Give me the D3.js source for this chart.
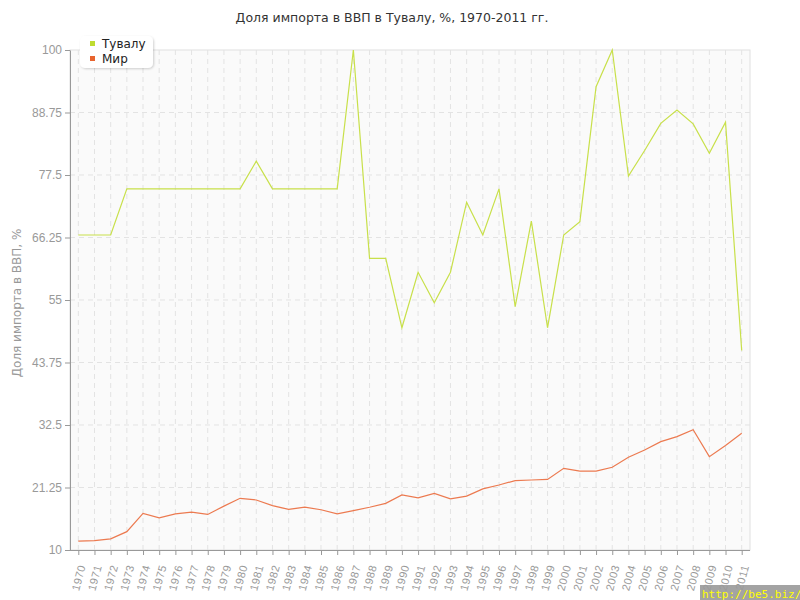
<!DOCTYPE html>
<html lang="ru">
<head>
<meta charset="utf-8">
<style>
    body { margin: 0; background: #fff; }
    svg { display: block; font-family: "DejaVu Sans", sans-serif; }
    .grid line { stroke: #e3e3e3; stroke-dasharray: 5,4; }
    .axis text { fill: #999; font-size: 11px; }
    .axis path, .axis line { stroke: #999; }
</style>
</head>
<body>
<svg id="chart" width="800" height="600"></svg>
<script src="https://cdn.jsdelivr.net/npm/d3@7"></script>
<script>
    var years = d3.range(1970, 2012);
    var tuvalu = [66.7, 66.7, 66.7, 75, 75, 75, 75, 75, 75, 75, 75, 80, 75, 75, 75, 75, 75, 100,
        62.5, 62.5, 50, 60, 54.5, 60, 72.6, 66.7, 75, 53.8, 69.2, 50, 66.7, 69.1, 93.4, 100,
        77.3, 81.9, 86.8, 89.2, 86.7, 81.4, 87, 45.9];
    var world = [11.6, 11.7, 12, 13.3, 16.6, 15.8, 16.5, 16.8, 16.4, 17.9, 19.3, 19, 18, 17.3,
        17.7, 17.25, 16.5, 17.1, 17.7, 18.4, 19.9, 19.4, 20.2, 19.2, 19.7, 21, 21.7, 22.5,
        22.6, 22.7, 24.7, 24.2, 24.2, 24.9, 26.7, 28, 29.5, 30.4, 31.65, 26.8, 28.8, 31];
    var yTicks = [10, 21.25, 32.5, 43.75, 55, 66.25, 77.5, 88.75, 100];
    var seriesNames = ["Тувалу", "Мир"];
    var seriesColors = ["#bfdc30", "#e8642e"];
    var lineColors = ["#c8e04a", "#ec7a50"];

    var svg = d3.select("#chart");
    var pl = 70, pr = 750, pt = 50, pb = 550;

    var x = d3.scalePoint().domain(years).range([78.3, 741.7]);
    var y = d3.scaleLinear().domain([10, 100]).range([pb, pt]);

    // plot background
    svg.append("rect")
        .attr("x", pl).attr("y", pt)
        .attr("width", pr - pl).attr("height", pb - pt)
        .attr("fill", "#fafafa")
        .attr("stroke", "#e0e0e0");

    // grid
    var grid = svg.append("g").attr("class", "grid");
    grid.selectAll(".v").data(years).enter().append("line")
        .attr("x1", function (d) { return x(d); }).attr("x2", function (d) { return x(d); })
        .attr("y1", pt).attr("y2", pb);
    grid.selectAll(".h").data(yTicks.slice(1, -1)).enter().append("line")
        .attr("x1", pl).attr("x2", pr)
        .attr("y1", function (d) { return y(d); }).attr("y2", function (d) { return y(d); });

    // axes
    svg.append("g").attr("class", "axis")
        .attr("transform", "translate(" + pl + ",0)")
        .call(d3.axisLeft(y).tickValues(yTicks).tickSize(5).tickSizeOuter(0).tickPadding(3)
            .tickFormat(function (d) { return String(d); }))
        .selectAll("text").style("font-size", "12px");

    var xAxis = svg.append("g").attr("class", "axis")
        .attr("transform", "translate(0," + pb + ")")
        .call(d3.axisBottom(x).tickSize(5).tickSizeOuter(0));
    xAxis.select(".domain").attr("d", "M" + pl + ",0.5H" + pr);
    xAxis.selectAll("text")
        .attr("text-anchor", "end")
        .attr("x", 0).attr("y", 0).attr("dx", 0).attr("dy", 0)
        .attr("transform", "translate(7,16) rotate(-75)")
        .style("letter-spacing", "0.5px");

    // y axis title
    svg.append("text")
        .attr("transform", "translate(21,303) rotate(-90)")
        .attr("text-anchor", "middle")
        .attr("fill", "#999")
        .style("font-size", "12px")
        .text("Доля импорта в ВВП, %");

    // title
    svg.append("text")
        .attr("x", 392).attr("y", 22)
        .attr("text-anchor", "middle")
        .attr("fill", "#333")
        .style("font-size", "12.5px")
        .text("Доля импорта в ВВП в Тувалу, %, 1970-2011 гг.");

    // lines
    var line = d3.line()
        .x(function (d, i) { return x(years[i]); })
        .y(function (d) { return y(d); });
    [tuvalu, world].forEach(function (s, i) {
        svg.append("path")
            .datum(s)
            .attr("fill", "none")
            .attr("stroke", lineColors[i])
            .attr("stroke-width", 1.2)
            .attr("d", line);
    });

    // legend
    var defs = svg.append("defs");
    var f = defs.append("filter").attr("id", "sh").attr("x", "-20%").attr("y", "-20%")
        .attr("width", "140%").attr("height", "160%");
    f.append("feDropShadow").attr("dx", 1).attr("dy", 1).attr("stdDeviation", 1.2)
        .attr("flood-color", "#000").attr("flood-opacity", 0.18);
    var lg = svg.append("g").attr("transform", "translate(80,36)");
    lg.append("rect")
        .attr("width", 73).attr("height", 32).attr("rx", 5)
        .attr("fill", "#fff").attr("filter", "url(#sh)");
    var items = lg.selectAll(".it").data(seriesNames).enter().append("g")
        .attr("transform", function (d, i) { return "translate(10," + (4 + i * 15) + ")"; });
    items.append("rect").attr("width", 5).attr("height", 5).attr("y", 1)
        .attr("fill", function (d, i) { return seriesColors[i]; });
    items.append("text").attr("x", 12).attr("y", 8)
        .attr("fill", "#222").style("font-size", "12px")
        .text(function (d) { return d; });

    // watermark
    svg.append("rect").attr("x", 700).attr("y", 585).attr("width", 100).attr("height", 15)
        .attr("fill", "#999").attr("opacity", 0.9);
    svg.append("text").attr("x", 702).attr("y", 598)
        .attr("fill", "#ffff00")
        .style("font-family", "DejaVu Sans Mono, monospace")
        .style("font-size", "11px")
        .text("http://be5.biz/");
</script>
</body>
</html>
